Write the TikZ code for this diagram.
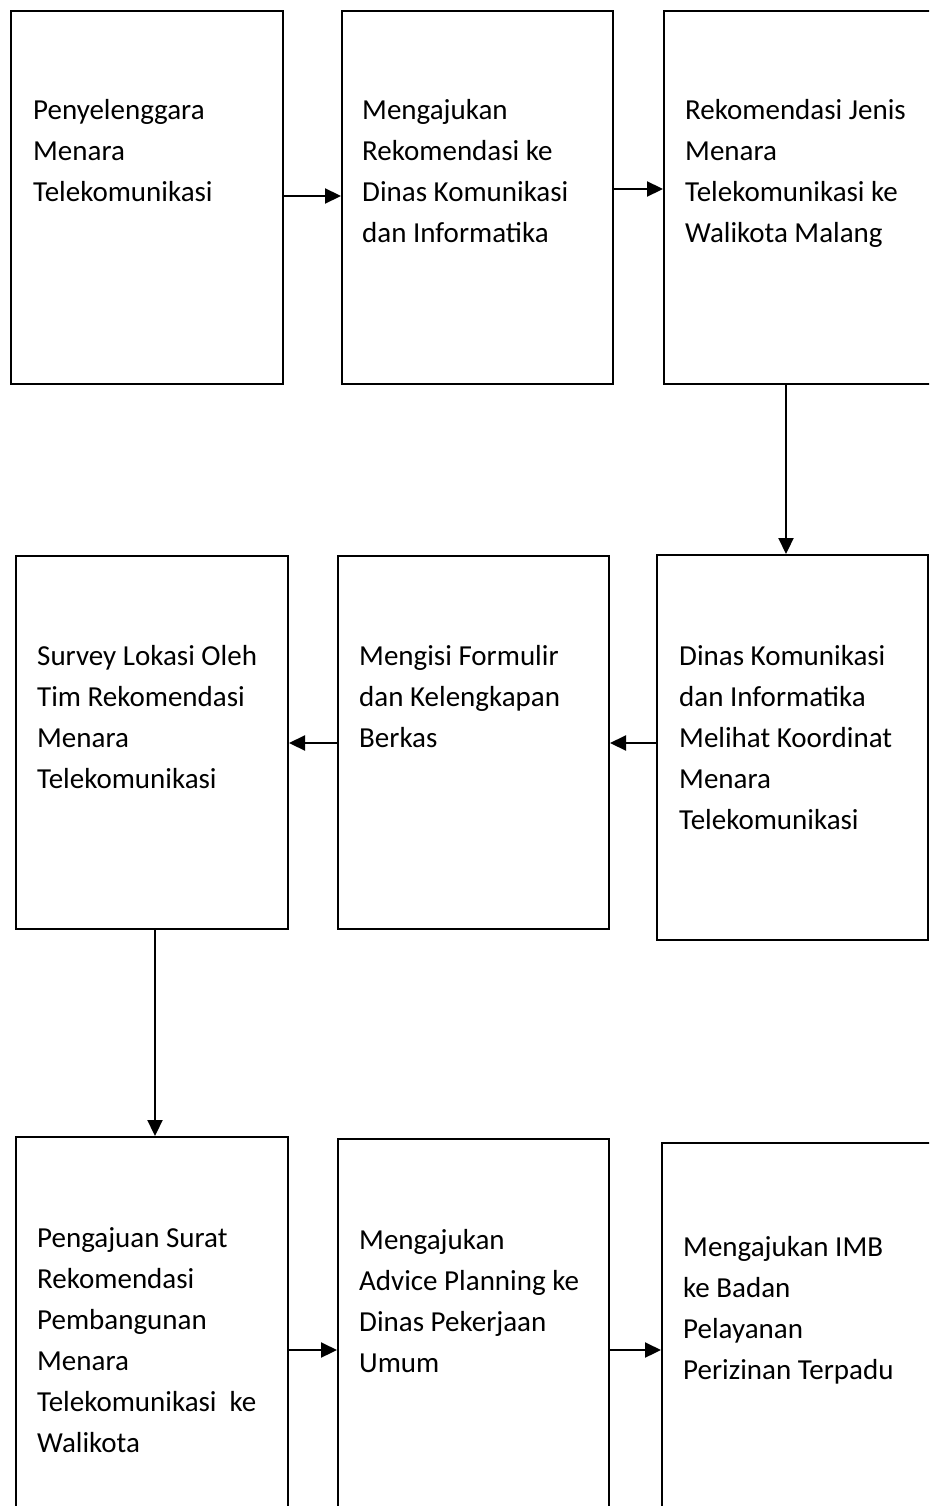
\documentclass[tikz,border=0pt]{standalone}
\usepackage{fontspec}
\setmainfont{Carlito}
\usetikzlibrary{arrows.meta}
\begin{document}
\begin{tikzpicture}[x=1pt,y=-1pt,
  box/.style={draw=black,line width=2pt,inner sep=0pt,rectangle},
  txt/.style={inner sep=0pt,align=left,anchor=base west,font=\fontsize{29}{41}\selectfont},
  arr/.style={line width=2.2pt,-{Triangle[length=16pt,width=15pt]}}]
\useasboundingbox (0,0) rectangle (929,1506);
\clip (0,0) rectangle (929,1506);
\fill[white] (0,0) rectangle (929,1506);
% row 1
\node[box,minimum width=272,minimum height=373] (A) at (147,197.5) {};
\node[box,minimum width=271,minimum height=373] (B) at (477.5,197.5) {};
\node[box,minimum width=296,minimum height=373] (C) at (812,197.5) {};
% row 2
\node[box,minimum width=271,minimum height=385] (D) at (792.5,747.5) {};
\node[box,minimum width=271,minimum height=373] (E) at (473.5,742.5) {};
\node[box,minimum width=272,minimum height=373] (F) at (152,742.5) {};
% row 3
\node[box,minimum width=272,minimum height=393] (G) at (152,1333.5) {};
\node[box,minimum width=271,minimum height=391] (H) at (473.5,1334.5) {};
\node[box,minimum width=298,minimum height=387] (I) at (811,1336.5) {};
% texts (anchor at baseline of last line)
\node[txt] (tA) at (33,202) {Penyelenggara\\Menara\\Telekomunikasi};
\node[txt] (tB) at (362,243) {Mengajukan\\Rekomendasi ke\\Dinas Komunikasi\\dan Informatika};
\node[txt] (tC) at (685,243) {Rekomendasi Jenis\\Menara\\Telekomunikasi ke\\Walikota Malang};
\node[txt] (tD) at (679,829) {Dinas Komunikasi\\dan Informatika\\Melihat Koordinat\\Menara\\Telekomunikasi};
\node[txt] (tE) at (359,747) {Mengisi Formulir\\dan Kelengkapan\\Berkas};
\node[txt] (tF) at (37,788) {Survey Lokasi Oleh\\Tim Rekomendasi\\Menara\\Telekomunikasi};
\node[txt] (tG) at (37,1452) {Pengajuan Surat\\Rekomendasi\\Pembangunan\\Menara\\Telekomunikasi\ \ ke\\Walikota};
\node[txt] (tH) at (359,1372) {Mengajukan\\Advice Planning ke\\Dinas Pekerjaan\\Umum};
\node[txt] (tI) at (683,1379) {Mengajukan IMB\\ke Badan\\Pelayanan\\Perizinan Terpadu};
% connectors
\draw[arr] ([yshift=1.5pt]A.east) -- ([yshift=1.5pt]B.west);
\draw[arr] ([yshift=8.5pt]B.east) -- ([yshift=8.5pt]C.west);
\draw[arr] ([xshift=-26pt]C.south) -- ([xshift=-6.5pt]D.north);
\draw[arr] ([yshift=4.5pt]D.west) -- ([yshift=-0.5pt]E.east);
\draw[arr] ([yshift=-0.5pt]E.west) -- ([yshift=-0.5pt]F.east);
\draw[arr] ([xshift=3pt]F.south) -- ([xshift=3pt]G.north);
\draw[arr] ([yshift=-16.5pt]G.east) -- ([yshift=-15.5pt]H.west);
\draw[arr] ([yshift=-15.5pt]H.east) -- ([yshift=-13.5pt]I.west);
\end{tikzpicture}
\end{document}
